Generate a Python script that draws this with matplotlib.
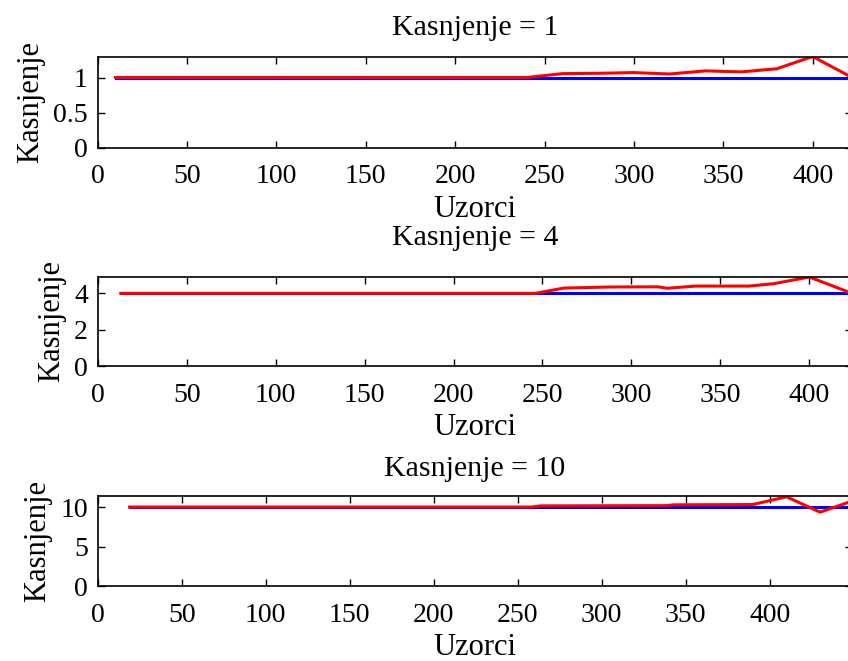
import numpy as np
import matplotlib
matplotlib.use('Agg')
import matplotlib.pyplot as plt

# Delay estimate vs. sample index, for three true delays
delay_1 = 1
x_est_1 = [10, 240, 260, 280, 300, 320, 340, 360, 380, 400, 422]
y_est_1 = [1.0, 1.0, 1.055, 1.06, 1.07, 1.05, 1.095, 1.08, 1.125, 1.3, 1.0]

delay_4 = 4
x_est_4 = [13, 246, 262, 288, 315, 320, 336, 366, 380, 400, 424]
y_est_4 = [4.0, 4.0, 4.29, 4.35, 4.36, 4.28, 4.4, 4.4, 4.53, 4.9, 4.0]

delay_10 = 10
x_est_10 = [19, 258, 264, 338, 343, 390, 410, 430, 449]
y_est_10 = [10.0, 10.0, 10.15, 10.18, 10.28, 10.32, 11.3, 9.35, 10.75]

yticks_1 = [0, 0.5, 1]
yticks_4 = [0, 2, 4]
yticks_10 = [0, 5, 10]
xticks = [0, 50, 100, 150, 200, 250, 300, 350, 400, 450]

panels = [
    (delay_1, x_est_1, y_est_1, yticks_1, 1.3, ['0', '0.5', '1']),
    (delay_4, x_est_4, y_est_4, yticks_4, 4.9, ['0', '2', '4']),
    (delay_10, x_est_10, y_est_10, yticks_10, 11.4, ['0', '5', '10']),
]

plt.rcParams['font.family'] = ['Liberation Serif', 'DejaVu Serif']
plt.rcParams['font.size'] = 20

fig = plt.figure(figsize=(8.48, 6.61), dpi=100)

left = 97.7 / 848
width = (852 - 97.7) / 848
boxes = [(56.5, 147.5), (277, 366), (496, 586)]
title_pads = [15.5, 23, 14.5]

for (d, xs, ys, yt, ytop, ylbl), (top, bot), tp in zip(panels, boxes, title_pads):
    ax = fig.add_axes([left, 1 - bot / 661, width, (bot - top) / 661])
    ax.plot([xs[0], xs[-1]], [d, d], color='blue', linewidth=2.2)
    ax.plot(xs, ys, color='red', linewidth=2.2)
    ax.set_xlim(0, xs[-1])
    ax.set_ylim(0, ytop)
    ax.set_xticks([t for t in xticks if t <= xs[-1]])
    ax.set_yticks(yt)
    ax.set_yticklabels(ylbl)
    ax.tick_params(direction='in', length=5, width=1, top=True, right=True)
    ax.tick_params(axis='x', pad=12)
    ax.tick_params(axis='y', pad=7)
    for sp in ax.spines.values():
        sp.set_linewidth(1.2)
    ax.set_xlabel('Uzorci', fontsize=22, labelpad=4)
    ax.set_ylabel('Kasnjenje', fontsize=22, labelpad=6)
    ax.set_title('Kasnjenje = %d' % d, fontsize=21.5, pad=tp)

fig.savefig('out.png', dpi=100)
